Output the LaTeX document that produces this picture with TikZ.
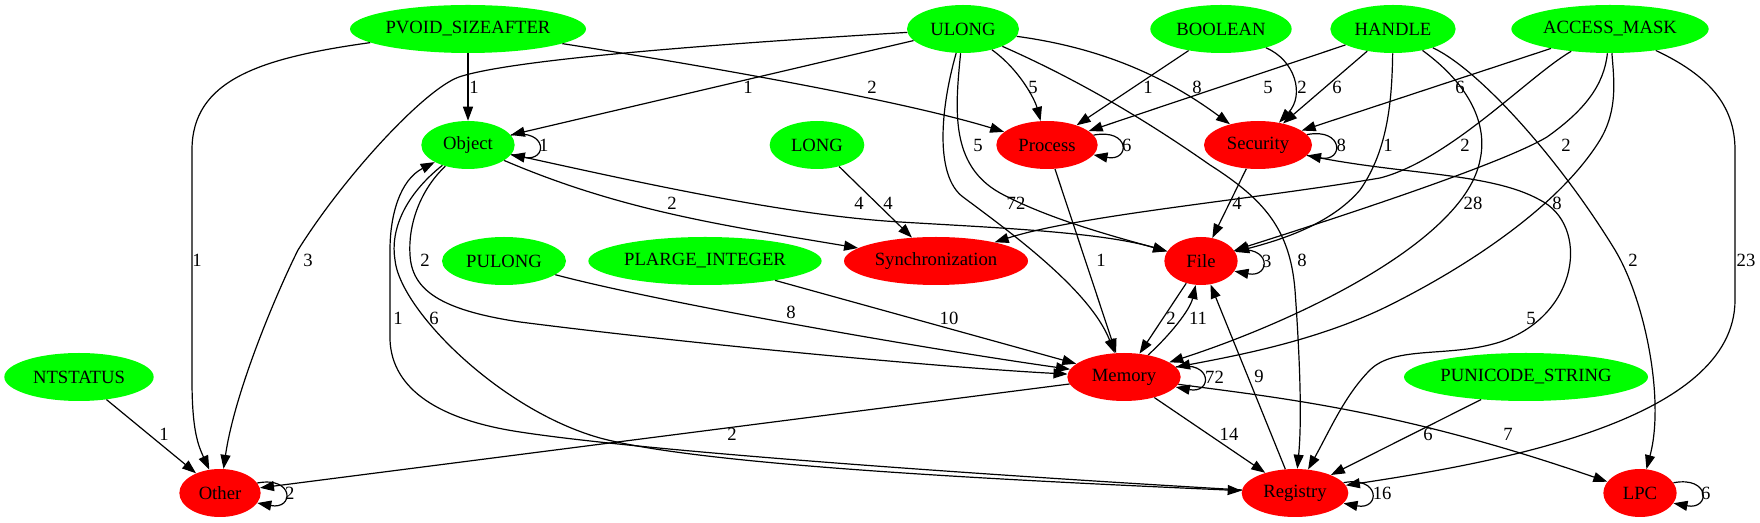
\documentclass[tikz,border=0pt]{standalone}
\usepackage{fontspec}
\setmainfont{Liberation Serif}
\usetikzlibrary{arrows.meta,shapes.geometric,calc}
\definecolor{typeGreen}{RGB}{0,255,0}
\definecolor{areaRed}{RGB}{255,0,0}

\tikzset{
  typenode/.style={ellipse,fill=typeGreen,inner sep=0pt,minimum height=36pt,font=\fontsize{14}{16}\selectfont},
  areanode/.style={ellipse,fill=areaRed,inner sep=0pt,minimum height=36pt,font=\fontsize{14}{16}\selectfont},
  edge/.style={-{Triangle[length=10.5pt,width=7.5pt]},line width=0.9pt},
  cnt/.style={inner sep=0pt,font=\fontsize{14}{16}\selectfont}
}

\begin{document}
\begin{tikzpicture}[x=0.75pt,y=-0.75pt]
\fill[white,use as bounding box] (0,0) rectangle (1760,523);

% types
\node[typenode,minimum width=177pt] (pvoid) at (468,29) {PVOID\_SIZEAFTER};
\node[typenode,minimum width=84pt] (ulong) at (963,29) {ULONG};
\node[typenode,minimum width=106pt] (boolean) at (1221,29) {BOOLEAN};
\node[typenode,minimum width=94pt] (handle) at (1393,29) {HANDLE};
\node[typenode,minimum width=148pt] (access) at (1610,29) {ACCESS\_MASK};
\node[typenode,minimum width=70pt] (object) at (468,145) {Object};
\node[typenode,minimum width=71pt] (long) at (817,145) {LONG};
\node[typenode,minimum width=93pt] (pulong) at (504,261) {PULONG};
\node[typenode,minimum width=175pt] (plarge) at (705,261) {PLARGE\_INTEGER};
\node[typenode,minimum width=112pt] (ntstatus) at (79,377) {NTSTATUS};
\node[typenode,minimum width=183pt] (punicode) at (1526,377) {PUNICODE\_STRING};

% areas
\node[areanode,minimum width=76pt] (process) at (1047,145) {Process};
\node[areanode,minimum width=81pt] (security) at (1258,145) {Security};
\node[areanode,minimum width=138pt] (sync) at (936,261) {Synchronization};
\node[areanode,minimum width=55pt] (file) at (1201,261) {File};
\node[areanode,minimum width=85pt] (memory) at (1124,377) {Memory};
\node[areanode,minimum width=61pt] (other) at (220,493) {Other};
\node[areanode,minimum width=80pt] (registry) at (1295,493) {Registry};
\node[areanode,minimum width=55pt] (lpc) at (1640,493) {LPC};

% PVOID_SIZEAFTER
\draw[edge] (pvoid) -- (object);
\node[cnt] (c-pv-ob) at (474,87) {1};
\draw[edge] (pvoid) .. controls (260,58) and (192,80) .. (192,150) -- (192,380) .. controls (192,430) and (198,445) .. (other);
\node[cnt] (c-pv-ot) at (197,260) {1};
\draw[edge] (pvoid) .. controls (700,65) and (900,100) .. (process);
\node[cnt] (c-pv-pr) at (872,87) {2};

% ULONG
\draw[edge] (ulong) -- (object);
\node[cnt] (c-ul-ob) at (748,87) {1};
\draw[edge] (ulong) .. controls (700,45) and (510,60) .. (459,77) .. controls (425,89) and (345,175) .. (298,250) .. controls (278,290) and (235,390) .. (other);
\node[cnt] (c-ul-ot) at (308,260) {3};
\draw[edge] (ulong) .. controls (1020,70) and (1035,100) .. (process);
\node[cnt] (c-ul-pr) at (1033,87) {5};
\draw[edge] (ulong) .. controls (1080,45) and (1150,65) .. (security);
\node[cnt] (c-ul-se) at (1197,87) {8};
\draw[edge] (ulong) .. controls (955,110) and (950,165) .. (1000,193) .. controls (1050,220) and (1120,238) .. (file);
\node[cnt] (c-ul-fi) at (978,145) {5};
\draw[edge] (ulong) .. controls (940,110) and (935,176) .. (963,197) .. controls (1010,232) and (1090,290) .. (memory);
\node[cnt] (c-ul-me) at (1016,203) {72};
\draw[edge] (ulong) .. controls (1090,85) and (1160,130) .. (1210,165) .. controls (1265,200) and (1290,230) .. (1295,290) .. controls (1300,360) and (1302,420) .. (registry);
\node[cnt] (c-ul-re) at (1302,260) {8};

% BOOLEAN
\draw[edge] (boolean) -- (process);
\node[cnt] (c-bo-pr) at (1148,87) {1};
\draw[edge] (boolean) .. controls (1295,60) and (1305,95) .. (security);
\node[cnt] (c-bo-se) at (1302,87) {2};

% HANDLE
\draw[edge] (handle) -- (process);
\node[cnt] (c-ha-pr) at (1268,87) {5};
\draw[edge] (handle) -- (security);
\node[cnt] (c-ha-se) at (1337,87) {6};
\draw[edge] (handle) .. controls (1392,100) and (1388,150) .. (1360,190) .. controls (1330,225) and (1280,240) .. (file);
\node[cnt] (c-ha-fi) at (1388,145) {1};
\draw[edge] (handle) .. controls (1470,85) and (1488,125) .. (1480,160) .. controls (1465,240) and (1300,320) .. (memory);
\node[cnt] (c-ha-me) at (1473,203) {28};
\draw[edge] (handle) .. controls (1480,70) and (1560,160) .. (1615,250) .. controls (1645,300) and (1665,400) .. (lpc);
\node[cnt] (c-ha-lp) at (1633,260) {2};

% ACCESS_MASK
\draw[edge] (access) -- (security);
\node[cnt] (c-ac-se) at (1460,87) {6};
\draw[edge] (access) .. controls (1530,75) and (1450,160) .. (1380,178) .. controls (1250,200) and (1080,215) .. (sync);
\node[cnt] (c-ac-sy) at (1465,145) {2};
\draw[edge] (access) .. controls (1604,85) and (1585,110) .. (1547,137) .. controls (1500,165) and (1330,220) .. (file);
\node[cnt] (c-ac-fi) at (1566,145) {2};
\draw[edge] (access) .. controls (1614,80) and (1618,110) .. (1600,140) .. controls (1560,205) and (1470,265) .. (1390,305) .. controls (1320,340) and (1240,355) .. (memory);
\node[cnt] (c-ac-me) at (1557,203) {8};
\draw[edge] (access) .. controls (1708,75) and (1735,105) .. (1735,150) -- (1735,300) .. controls (1735,420) and (1500,462) .. (registry);
\node[cnt] (c-ac-re) at (1746,260) {23};

% Object
\draw[edge] (object) .. controls (620,210) and (720,225) .. (sync);
\node[cnt] (c-ob-sy) at (672,203) {2};
\draw[edge] (object) .. controls (620,178) and (780,215) .. (900,222) .. controls (1000,228) and (1100,232) .. (file);
\node[cnt] (c-ob-fi) at (859,203) {4};
\draw[edge] (object) .. controls (420,190) and (408,225) .. (410,255) .. controls (412,290) and (440,310) .. (520,322) .. controls (700,345) and (950,368) .. (memory);
\node[cnt] (c-ob-me) at (425,260) {2};
\draw[edge] (object) .. controls (405,195) and (390,230) .. (395,260) .. controls (400,310) and (500,410) .. (600,438) .. controls (700,465) and (1000,480) .. (registry);
\node[cnt] (c-ob-re) at (434,318) {6};
\draw[edge] (registry) .. controls (1000,476) and (650,452) .. (520,432) .. controls (440,420) and (392,390) .. (390,340) -- (390,250) .. controls (390,215) and (400,180) .. (object);
\node[cnt] (c-re-ob) at (398,318) {1};

% other sources
\draw[edge] (long) -- (sync);
\node[cnt] (c-lo-sy) at (888,203) {4};
\draw[edge] (pulong) .. controls (650,300) and (900,345) .. (memory);
\node[cnt] (c-pu-me) at (791,312) {8};
\draw[edge] (plarge) -- (memory);
\node[cnt] (c-pl-me) at (949,318) {10};
\draw[edge] (ntstatus) -- (other);
\node[cnt] (c-nt-ot) at (164,434) {1};
\draw[edge] (punicode) -- (registry);
\node[cnt] (c-un-re) at (1428,434) {6};

% areas to areas
\draw[edge] (process) -- (memory);
\node[cnt] (c-pr-me) at (1101,260) {1};
\draw[edge] (security) -- (file);
\node[cnt] (c-se-fi) at (1237,203) {4};
\draw[edge] (security) .. controls (1400,175) and (1490,172) .. (1540,200) .. controls (1590,225) and (1580,315) .. (1500,342) .. controls (1450,358) and (1395,345) .. (1370,370) .. controls (1345,395) and (1330,430) .. (registry);
\node[cnt] (c-se-re) at (1531,318) {5};
\draw[edge] (file) -- (memory);
\node[cnt] (c-fi-me) at (1171,318) {2};
\draw[edge] (memory) .. controls (1170,335) and (1190,310) .. (file);
\node[cnt] (c-me-fi) at (1198,318) {11};
\draw[edge] (registry) -- (file);
\node[cnt] (c-re-fi) at (1259,376) {9};
\draw[edge] (memory) -- (other);
\node[cnt] (c-me-ot) at (732,434) {2};
\draw[edge] (memory) -- (registry);
\node[cnt] (c-me-re) at (1229,434) {14};
\draw[edge] (memory) .. controls (1280,398) and (1400,410) .. (lpc);
\node[cnt] (c-me-lp) at (1508,434) {7};

% self loops
\foreach \nd/\ang/\cnt in {object/13/1,process/12/6,security/12/8,file/17/3,memory/11/72,other/15/2,registry/12/16,lpc/17/6}{
  \draw[edge] (\nd.\ang) .. controls +(37,-7) and +(37,7) .. (\nd.-\ang);
  \node[cnt,anchor=west] (loop-\nd) at ([xshift=18pt]\nd.east) {\cnt};
}
\end{tikzpicture}
\end{document}
